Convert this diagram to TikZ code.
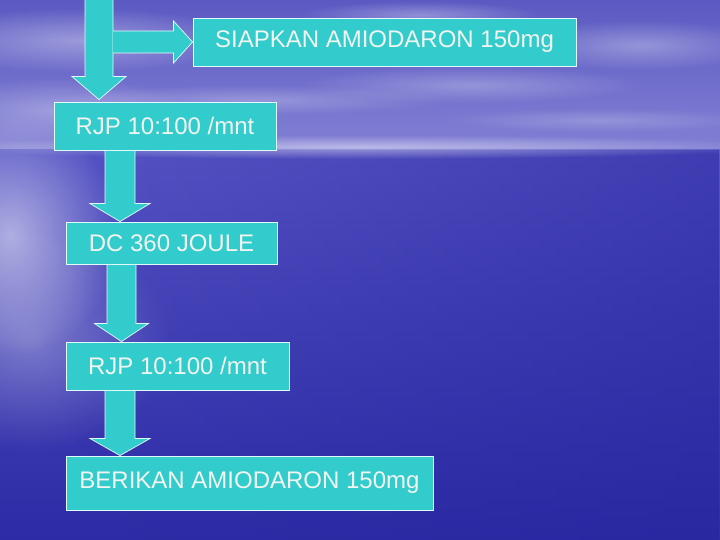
\documentclass[tikz,border=0pt]{standalone}
\usepackage{fontspec}
\setmainfont{Liberation Sans}
\usetikzlibrary{calc,fadings}
\definecolor{boxfill}{RGB}{51,204,204}
\definecolor{boxline}{RGB}{225,250,250}
\definecolor{boxtext}{RGB}{242,244,240}
\definecolor{skytop}{RGB}{92,90,194}
\definecolor{skylow}{RGB}{130,128,212}
\definecolor{seatop}{RGB}{88,86,198}
\definecolor{seabot}{RGB}{46,44,166}
\definecolor{seadark}{RGB}{38,36,156}
\tikzfading[name=softspot, inner color=transparent!0, outer color=transparent!100]
\tikzfading[name=toright, left color=transparent!100, right color=transparent!0]
\tikzset{
  flowbox/.style={rectangle, fill=boxfill, draw=boxline, line width=0.9bp,
    text=boxtext, font=\fontsize{24bp}{28bp}\selectfont, inner sep=0pt},
  flowarrow/.style={fill=boxfill, draw=boxline, line width=0.7bp, line join=miter},
  cloud/.style={fill=white, path fading=softspot},
}
\newcommand\vflow[6]{% #1 centre coordinate, #2 from node, #3 to node, #4 shaft half width, #5 head half width, #6 head length
  \draw[flowarrow]
    ($(#1 |- #2.south)+(-#4,0)$) --
    ($(#1 |- #3.north)+(-#4,-#6)$) --
    ($(#1 |- #3.north)+(-#5,-#6)$) --
    (#1 |- #3.north) --
    ($(#1 |- #3.north)+(#5,-#6)$) --
    ($(#1 |- #3.north)+(#4,-#6)$) --
    ($(#1 |- #2.south)+(#4,0)$) -- cycle;}
\begin{document}
\begin{tikzpicture}[x=1bp,y=-1bp]
\useasboundingbox (0,0) rectangle (720,540);
% ---------- background: sky and sea ----------
\shade[top color=skytop, bottom color=skylow] (0,0) rectangle (720,150);
\shade[top color=seatop, bottom color=seabot] (0,150) rectangle (720,540);
\fill[seadark, path fading=toright, opacity=0.5] (0,150) rectangle (720,540);
% clouds
\fill[cloud, opacity=0.35] (80,40) ellipse (170 and 32);
\fill[cloud, opacity=0.30] (640,45) ellipse (130 and 25);
\fill[cloud, opacity=0.25] (470,85) ellipse (170 and 18);
\fill[cloud, opacity=0.25] (250,100) ellipse (200 and 15);
\fill[cloud, opacity=0.30] (60,110) ellipse (130 and 32);
\fill[cloud, opacity=0.20] (600,120) ellipse (160 and 12);
\fill[cloud, opacity=0.30] (420,15) ellipse (120 and 14);
% horizon glow
\fill[cloud, opacity=0.45] (360,147) ellipse (420 and 12);
\fill[cloud, opacity=0.55] (10,235) ellipse (110 and 120);
\fill[cloud, opacity=0.30] (30,340) ellipse (140 and 110);
% ---------- flow boxes ----------
\node[flowbox, minimum width=383bp, minimum height=48bp] (s)  at (384.5,42)  {SIAPKAN AMIODARON 150mg};
\node[flowbox, minimum width=222bp, minimum height=48bp] (r1) at (165,126)   {RJP 10:100 /mnt};
\node[flowbox, minimum width=211bp, minimum height=42bp] (dc) at (171.5,243) {DC 360 JOULE};
\node[flowbox, minimum width=223bp, minimum height=48bp] (r2) at (177.5,366) {RJP 10:100 /mnt};
\node[flowbox, minimum width=367bp, minimum height=54bp] (b)  at (249.5,483) {BERIKAN AMIODARON 150mg};
% ---------- block arrows ----------
\coordinate (start) at (99,-2);
\coordinate (c2) at (120,0);
\coordinate (c3) at (121.5,0);
\coordinate (c4) at (120,0);
% first arrow from the top edge down to RJP, with a branch to SIAPKAN
\draw[flowarrow]
  ($(start)+(-14,0)$) --
  ($(start |- r1.north)+(-14,-25)$) --
  ($(start |- r1.north)+(-27,-25)$) --
  ($(start |- r1.north)+(0,-2)$) --
  ($(start |- r1.north)+(27,-25)$) --
  ($(start |- r1.north)+(14,-25)$) --
  ($(start)+(14,0)$) -- cycle;
\draw[flowarrow]
  ($(start |- s.west)+(14,-11)$) --
  ($(s.west)+(-19,-11)$) --
  ($(s.west)+(-19,-21)$) --
  (s.west) --
  ($(s.west)+(-19,21)$) --
  ($(s.west)+(-19,11)$) --
  ($(start |- s.west)+(14,11)$);
\vflow{c2}{r1}{dc}{15}{30}{18}
\vflow{c3}{dc}{r2}{14.5}{27}{18}
\vflow{c4}{r2}{b}{15}{30}{17}
\end{tikzpicture}
\end{document}
